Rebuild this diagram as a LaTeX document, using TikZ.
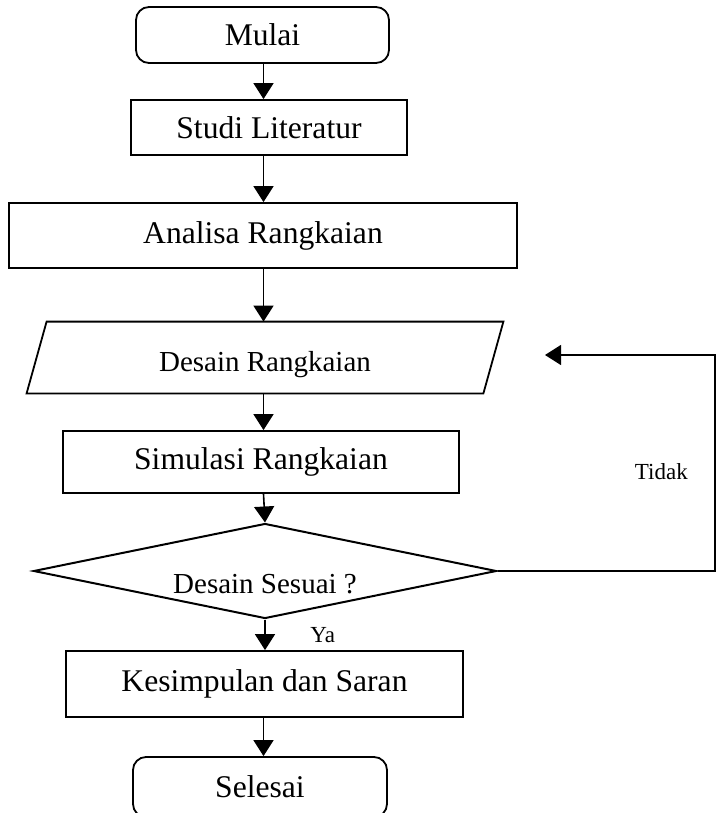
\documentclass[tikz,border=0pt]{standalone}
\usepackage{fontspec}
\setmainfont{Liberation Serif}
\usetikzlibrary{shapes.geometric,arrows.meta,positioning}

\begin{document}
\begin{tikzpicture}[x=0.5pt,y=-0.5pt,
  box/.style={draw, line width=0.9pt, inner sep=0pt, font=\fontsize{15.8}{18}\selectfont},
  term/.style={box, rounded corners=6.5pt},
  decision/.style={box, diamond, line width=1pt},
  small/.style={font=\fontsize{14.5}{17}\selectfont},
  lbl/.style={font=\fontsize{11.5}{13}\selectfont},
  arr/.style={line width=0.8pt, -{Triangle[width=10pt,length=8pt]}}]
%\draw[help lines] (0,0) grid[step=50] (716,813);
\useasboundingbox (0,0) rectangle (716,813);
\coordinate (axis) at (263.5,0);

\node[term, minimum width=126.5pt, minimum height=28pt] (mulai) at (262.5,35) {Mulai};
\node[box, minimum width=138pt, minimum height=27.5pt] (studi) at (269,127.5) {Studi Literatur};
\node[box, minimum width=254pt, minimum height=32.5pt] (analisa) at (263,235.5) {Analisa Rangkaian};
\node[small, inner sep=0pt, minimum width=228pt, minimum height=35.5pt, text depth=0pt, text height=14pt] (desain) at (265,357.5) {Desain Rangkaian};
\draw[line width=0.9pt] ([xshift=5pt]desain.north west) -- ([xshift=5pt]desain.north east)
   -- ([xshift=-5pt]desain.south east) -- ([xshift=-5pt]desain.south west) -- cycle;
\node[box, minimum width=198pt, minimum height=31pt] (simulasi) at (261,462) {Simulasi Rangkaian};
\node[decision, minimum width=231.5pt, minimum height=47.5pt,
      label={[small, name=cektxt, yshift=-6.5pt]center:Desain Sesuai ?}] (cek) at (265,571) {};
\node[box, minimum width=198.5pt, minimum height=33pt] (kesimpulan) at (264.5,684) {Kesimpulan dan Saran};
\node[term, minimum width=127pt, minimum height=30pt] (selesai) at (260,787) {Selesai};

% alur utama
\draw[arr] (mulai.south -| axis) -- (studi.north -| axis);
\draw[arr] (studi.south -| axis) -- (analisa.north -| axis);
\draw[arr] (analisa.south -| axis) -- (desain.north -| axis);
\draw[arr] (desain.south -| axis) -- (simulasi.north -| axis);
\draw[arr] (simulasi.south -| axis) -- (cek.north);
\draw[arr] (cek.south) -- node[lbl, right=19pt] (ya) {Ya} (kesimpulan.north -| cek.south);
\draw[arr] (kesimpulan.south -| axis) -- (selesai.north -| axis);

% kembali ke desain
\coordinate (corner) at (715,355);
\coordinate (back) at (545,355);
\draw[line width=0.6pt, -{Triangle[width=10pt,length=8pt]}] (cek.east) -| node[lbl, pos=0.73, left=10pt] (tidak) {Tidak} (corner) -- (back);
\end{tikzpicture}
\end{document}
